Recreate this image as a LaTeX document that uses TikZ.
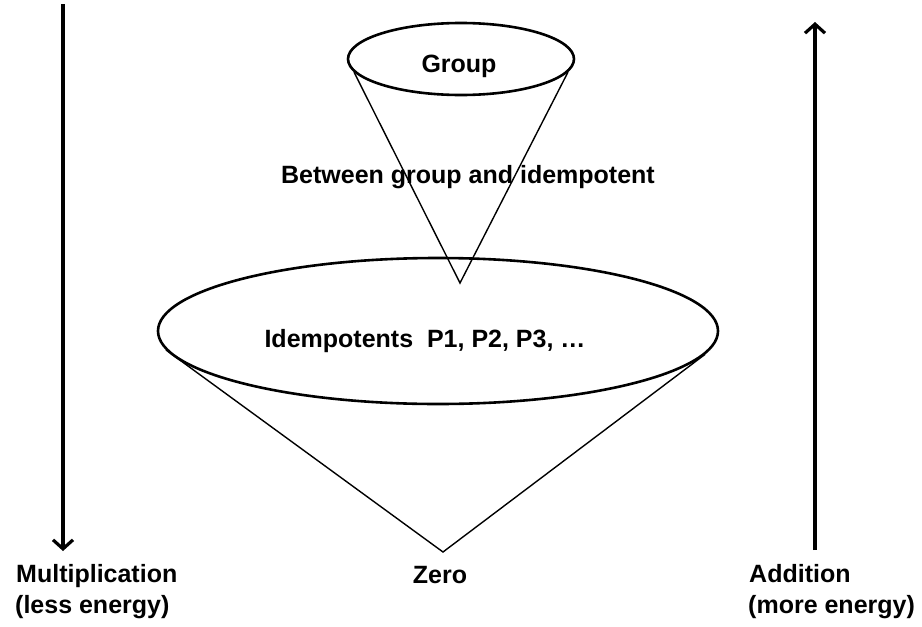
\documentclass[tikz,border=0pt]{standalone}
\usepackage{fontspec}
\setmainfont{Liberation Sans}
\usetikzlibrary{shapes.geometric,arrows.meta}
\tikzset{
  rim/.style={draw=black, line width=2.6pt, ellipse, inner sep=0pt},
  coneline/.style={draw=black, line width=1.4pt},
  energyarrow/.style={draw=black, line width=3.2pt, -{Straight Barb[length=9pt,width=20pt,line width=3.2pt]}},
  lbl/.style={font=\fontsize{25}{30}\selectfont\bfseries, inner sep=0pt, anchor=base},
  lbll/.style={font=\fontsize{25}{30}\selectfont\bfseries, inner sep=0pt, anchor=base west}
}
\begin{document}
\begin{tikzpicture}[x=1pt,y=-1pt]
\useasboundingbox[fill=white] (0,0) rectangle (922,627);
% ellipses
\node[rim, minimum width=226pt, minimum height=72pt] (grp) at (461,59) {};
\node[rim, minimum width=560pt, minimum height=146pt] (idem) at (438,331) {};
% apexes
\coordinate (apexA) at (460,283);
\coordinate (apexB) at (443,552);
% cones
\draw[coneline] (grp.187) -- (apexA) -- (grp.353.5);
\draw[coneline] (idem.184) -- (apexB) -- (idem.355.3);
% labels
\node[lbl] (tgrp) at (459,72) {Group};
\node[lbl] (tbetween) at (468,183) {Between group and idempotent};
\node[lbl] (tidem) at (425,347) {Idempotents\ \ P1, P2, P3, \dots};
\node[lbl] (tzero) at (440,583) {Zero};
\node[lbll] (tmult) at (16,582) {Multiplication};
\node[lbll] (tless) at (15,613) {(less energy)};
\node[lbll] (tadd) at (749,582) {Addition};
\node[lbll] (tmore) at (748,613) {(more energy)};
% arrows
\coordinate (mtop) at (63,4);
\coordinate (mbot) at (63,551);
\coordinate (abot) at (815,550);
\coordinate (atop) at (815,22);
\draw[energyarrow] (mtop) -- (mbot);
\draw[energyarrow] (abot) -- (atop);
\end{tikzpicture}
\end{document}
